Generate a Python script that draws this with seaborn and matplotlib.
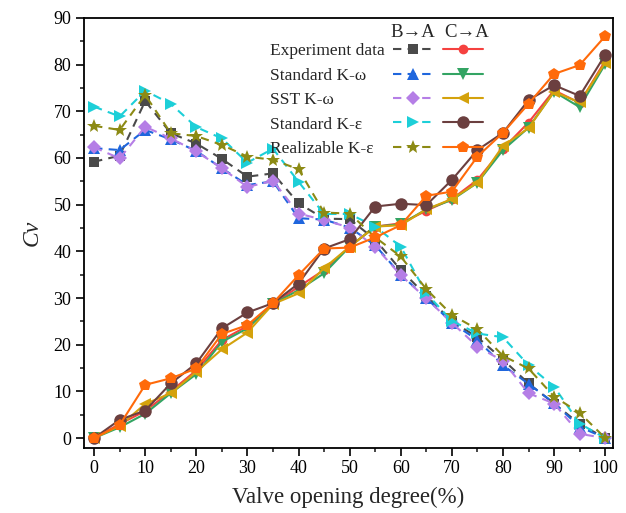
import numpy as np
import matplotlib
matplotlib.use('Agg')
import matplotlib.pyplot as plt
import seaborn as sns
from matplotlib.legend_handler import HandlerTuple
from matplotlib.lines import Line2D
from matplotlib.ticker import MultipleLocator

sns.set_style('ticks')
plt.rcParams['font.family'] = ['Liberation Serif', 'DejaVu Serif']

opening = [0, 5, 10, 15, 20, 25, 30, 35, 40, 45, 50, 55, 60, 65, 70, 75, 80, 85, 90, 95, 100]

# B->A (dashed)
exp_b = [59.2, 60.5, 72.2, 65.3, 63.1, 59.8, 56.0, 56.7, 50.3, 47.0, 46.9, 42.5, 36.0, 30.5, 25.0, 21.6, 16.8, 11.7, 7.4, 3.0, 0.0]
skw_b = [62.1, 61.7, 66.0, 64.0, 61.5, 57.8, 54.2, 55.0, 47.1, 46.8, 45.1, 41.3, 35.0, 30.0, 24.7, 21.0, 15.6, 11.6, 7.5, 2.4, 0.0]
sst_b = [62.3, 59.9, 66.7, 64.2, 61.4, 57.8, 53.8, 55.1, 48.1, 46.7, 45.1, 41.0, 34.9, 29.9, 24.7, 19.6, 16.5, 9.6, 7.4, 0.9, 0.0]
ske_b = [71.0, 68.9, 74.4, 71.6, 66.6, 64.2, 59.0, 62.0, 54.9, 48.0, 48.0, 45.3, 41.0, 31.0, 25.1, 22.4, 21.6, 15.6, 11.0, 3.1, 0.0]
rke_b = [66.9, 66.0, 73.5, 65.3, 64.7, 62.8, 60.3, 59.6, 57.6, 48.3, 48.1, 43.0, 38.9, 31.9, 26.4, 23.3, 17.6, 14.9, 8.9, 5.4, 0.0]

# C->A (solid)
exp_c = [0.0, 3.0, 5.8, 10.0, 14.5, 21.0, 24.0, 28.7, 32.4, 36.0, 41.0, 45.3, 46.0, 48.7, 51.2, 55.3, 62.0, 67.6, 74.5, 71.8, 80.8]
skw_c = [0.0, 2.3, 5.2, 9.6, 13.7, 20.6, 23.5, 28.7, 31.7, 35.3, 41.0, 45.3, 45.8, 49.0, 51.0, 54.7, 61.7, 66.5, 74.2, 70.9, 80.1]
sst_c = [0.0, 2.6, 7.3, 9.6, 14.2, 19.0, 22.6, 28.7, 31.0, 36.4, 41.0, 45.3, 45.6, 49.0, 51.2, 54.7, 62.6, 66.4, 74.2, 71.9, 80.4]
ske_c = [0.0, 3.9, 5.9, 11.7, 16.0, 23.5, 26.9, 28.9, 33.1, 40.6, 42.6, 49.6, 50.2, 49.9, 55.3, 61.7, 65.4, 72.4, 75.6, 73.3, 82.1]
rke_c = [0.0, 2.8, 11.4, 12.8, 14.9, 22.3, 24.2, 28.9, 34.9, 40.6, 40.8, 43.0, 45.6, 51.9, 52.8, 60.3, 65.4, 71.6, 78.0, 79.9, 86.1]

names = ['Experiment data', 'Standard K-\u03c9', 'SST K-\u03c9', 'Standard K-\u03b5', 'Realizable K-\u03b5']
b_series = [exp_b, skw_b, sst_b, ske_b, rke_b]
c_series = [exp_c, skw_c, sst_c, ske_c, rke_c]
b_colors = ['#4a4a4a', '#1f66dd', '#b57ee6', '#1dcfd8', '#8c8a14']
c_colors = ['#f5413f', '#33a463', '#d4a20c', '#6b3f3f', '#ff6a0a']
b_markers = ['s', '^', 'D', '>', '*']
c_markers = ['o', 'v', '<', 'o', 'p']
b_msize = [7, 8, 7, 9, 10]
c_msize = [7, 8, 9, 9, 9]

fig = plt.figure(figsize=(6.26, 5.13), dpi=100)
ax = fig.add_axes([0.134, 0.127, 0.845, 0.838])

handles = []
for i in range(5):
    sns.lineplot(x=opening, y=b_series[i], ax=ax, color=b_colors[i], marker=b_markers[i],
                 markersize=b_msize[i], markeredgewidth=0, linewidth=1.5,
                 linestyle=(0, (4, 3)), zorder=3)
    hb = ax.lines[-1]
    sns.lineplot(x=opening, y=c_series[i], ax=ax, color=c_colors[i], marker=c_markers[i],
                 markersize=c_msize[i], markeredgewidth=0, linewidth=1.5, zorder=3)
    hc = ax.lines[-1]
    handles.append((hb, hc))

ax.set_xlim(-2, 101.5)
ax.set_ylim(-2.1, 90)
ax.xaxis.set_major_locator(MultipleLocator(10))
ax.xaxis.set_minor_locator(MultipleLocator(5))
ax.yaxis.set_major_locator(MultipleLocator(10))
ax.yaxis.set_minor_locator(MultipleLocator(5))
ax.tick_params(which='major', direction='out', length=5.5, width=1.2, labelsize=13, colors='black')
ax.tick_params(which='minor', direction='out', length=3, width=1.2)
for s in ax.spines.values():
    s.set_linewidth(1.3)
    s.set_color('black')

ax.set_xlabel('Valve opening degree(%)', fontsize=16.5, labelpad=7)
ax.set_ylabel('Cv', fontsize=17, style='italic', labelpad=8)

# legend: names column (left aligned) + handle column
blank = [Line2D([], [], alpha=0) for _ in names]
leg_names = ax.legend(blank, names, frameon=False, fontsize=12.5, handlelength=0,
                      handletextpad=0, labelspacing=0.48, loc='upper left',
                      bbox_to_anchor=(0.338, 0.958), borderaxespad=0)
ax.add_artist(leg_names)
ax.legend(handles, [' '] * 5, handler_map={tuple: HandlerTuple(ndivide=None, pad=0.63)},
          frameon=False, fontsize=12.5, handlelength=5.2, handletextpad=0,
          labelspacing=0.48, loc='upper left', bbox_to_anchor=(0.571, 0.958), borderaxespad=0)
ax.text(0.622, 0.985, 'B\u2192A', transform=ax.transAxes, fontsize=13.5, ha='center', va='top')
ax.text(0.724, 0.985, 'C\u2192A', transform=ax.transAxes, fontsize=13.5, ha='center', va='top')

fig.savefig('out.png', dpi=100)
